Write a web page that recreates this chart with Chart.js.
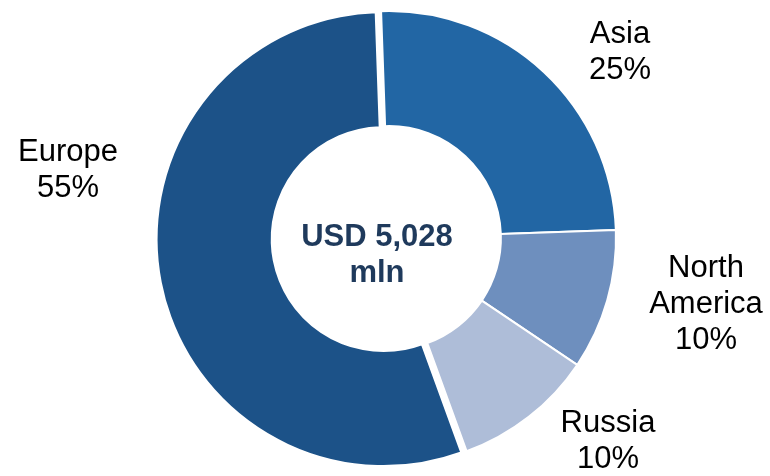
<!DOCTYPE html>
<html>
<head>
<meta charset="utf-8">
<script src="https://cdn.jsdelivr.net/npm/chart.js@4/dist/chart.umd.min.js"></script>
<style>
  html, body { margin: 0; padding: 0; background: #ffffff; }
  #wrap { width: 770px; height: 476px; }
</style>
</head>
<body>
<div id="wrap"><canvas id="chart" width="770" height="476"></canvas></div>
<script>
// Revenue split by region
const categories = ['Asia', 'North America', 'Russia', 'Europe'];
const shares = [25, 10, 10, 55];
const centerLines = ['USD 5,028', 'mln'];

const sliceColors = ['#2266a4', '#6e8fbe', '#aebdd8', '#1c5288'];
const explodePx = [0, 0, 0, 5.5];          // pulled-out distance per slice
const labelAnchors = [                      // x, first baseline
  [620, 43], [706, 277], [608, 432], [68, 161]
];
const LABEL_FONT = '31px "Liberation Sans", Arial, sans-serif';
const CENTER_FONT = 'bold 31px "Liberation Sans", Arial, sans-serif';
const LINE_H = 36;

// Moves selected slices outward along their mid-angle without enlarging them
const explodePlugin = {
  id: 'explode',
  afterDatasetUpdate(chart, args) {
    const meta = chart.getDatasetMeta(args.index);
    meta.data.forEach((arc, i) => {
      const d = explodePx[i] || 0;
      if (!d || arc._shifted) return;
      const baseDraw = arc.draw;
      arc.draw = function (ctx, area) {
        const mid = (this.startAngle + this.endAngle) / 2;
        ctx.save();
        ctx.translate(Math.cos(mid) * d, Math.sin(mid) * d);
        baseDraw.call(this, ctx, area);
        ctx.restore();
      };
      arc._shifted = true;
    });
  }
};

const textPlugin = {
  id: 'texts',
  afterDraw(chart) {
    const ctx = chart.ctx;
    ctx.save();
    ctx.textAlign = 'center';
    ctx.textBaseline = 'alphabetic';

    // category labels with shares
    ctx.fillStyle = '#000000';
    ctx.font = LABEL_FONT;
    categories.forEach((name, i) => {
      const lines = name.split(' ').concat([shares[i] + '%']);
      const [x, y] = labelAnchors[i];
      lines.forEach((t, k) => ctx.fillText(t, x, y + k * LINE_H));
    });

    // total in the hole
    ctx.fillStyle = '#1f3a5c';
    ctx.font = CENTER_FONT;
    const cx = 377;
    centerLines.forEach((t, k) => ctx.fillText(t, cx, 246 + k * LINE_H));
    ctx.restore();
  }
};

new Chart(document.getElementById('chart'), {
  type: 'doughnut',
  data: {
    labels: categories,
    datasets: [{
      data: shares,
      backgroundColor: sliceColors,
      borderColor: '#ffffff',
      borderWidth: 2,
      hoverOffset: 0
    }]
  },
  options: {
    responsive: false,
    animation: false,
    devicePixelRatio: 1,
    rotation: -2,
    radius: 227,
    cutout: '49.3%',
    layout: { padding: { left: 8, right: 0, top: 0, bottom: 0 } },
    plugins: {
      legend: { display: false },
      tooltip: { enabled: false }
    },
    events: []
  },
  plugins: [explodePlugin, textPlugin]
});
</script>
</body>
</html>
